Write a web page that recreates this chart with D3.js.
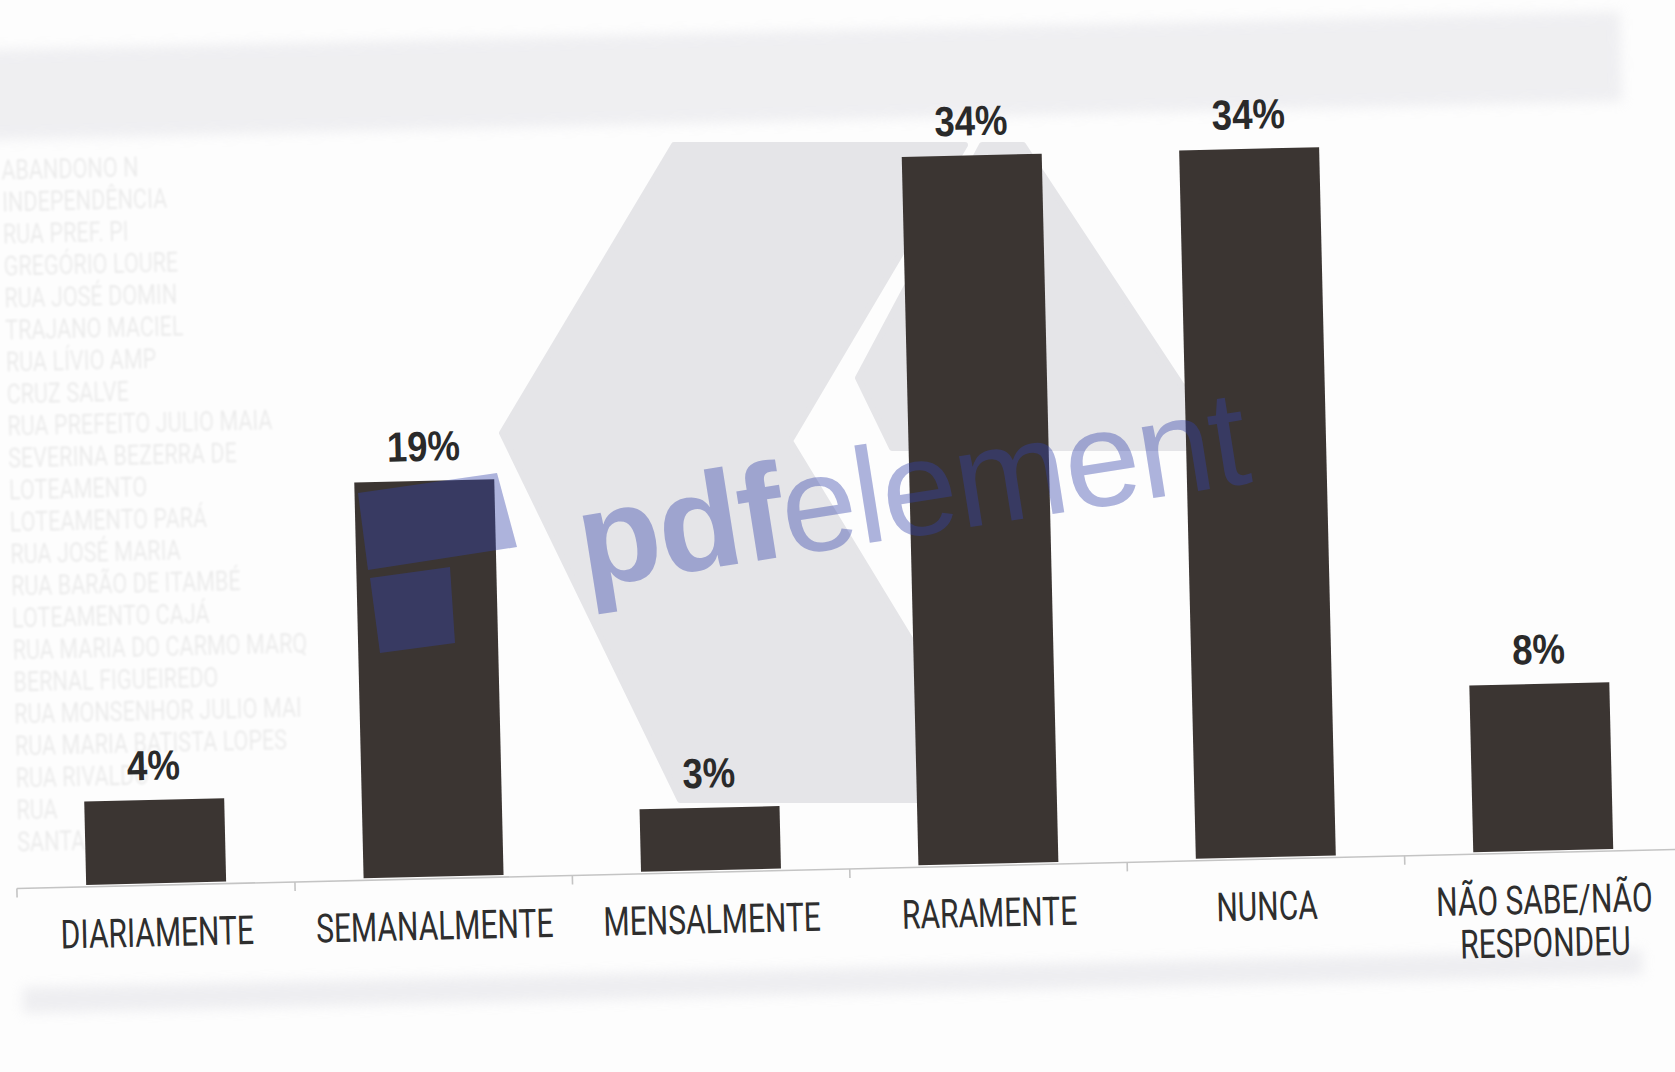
<!DOCTYPE html>
<html>
<head>
<meta charset="utf-8">
<script src="https://cdn.jsdelivr.net/npm/d3@7"></script>
<style>
  html, body { margin: 0; padding: 0; background: #fdfdfd; }
  svg { display: block; }
</style>
</head>
<body>
<svg id="chart" width="1675" height="1072"></svg>
<script>
// ---------------- DATA ----------------
const categories = ["DIARIAMENTE", "SEMANALMENTE", "MENSALMENTE", "RARAMENTE", "NUNCA", "NÃO SABE/NÃO RESPONDEU"];
const categoryLines = [["DIARIAMENTE"], ["SEMANALMENTE"], ["MENSALMENTE"], ["RARAMENTE"], ["NUNCA"], ["NÃO SABE/NÃO", "RESPONDEU"]];
const values = [4, 19, 3, 34, 34, 8];
const valueLabels = ["4%", "19%", "3%", "34%", "34%", "8%"];
// faint text showing through from the page behind
const bleedLines = ["ABANDONO N", "INDEPENDÊNCIA", "RUA PREF. PI", "GREGÓRIO LOURE", "RUA JOSÉ DOMIN", "TRAJANO MACIEL",
  "RUA LÍVIO AMP", "CRUZ SALVE", "RUA PREFEITO JULIO MAIA", "SEVERINA BEZERRA DE", "LOTEAMENTO", "LOTEAMENTO PARÁ",
  "RUA JOSÉ MARIA", "RUA BARÃO DE ITAMBÉ", "LOTEAMENTO CAJÁ", "RUA MARIA DO CARMO MARQ", "BERNAL FIGUEIREDO",
  "RUA MONSENHOR JULIO MAI", "RUA MARIA BATISTA LOPES", "RUA RIVALDO", "RUA", "SANTA"];
const watermarkWords = ["pdf", "element"];

// ---------------- SETUP ----------------
const W = 1675, H = 1072;
const svg = d3.select("#chart");
const defs = svg.append("defs");
defs.append("filter").attr("id", "blurBig").attr("x", "-10%").attr("y", "-50%").attr("width", "120%").attr("height", "200%")
  .append("feGaussianBlur").attr("stdDeviation", 6);
defs.append("filter").attr("id", "blurSmall")
  .append("feGaussianBlur").attr("stdDeviation", 1.3);

svg.append("rect").attr("width", W).attr("height", H).attr("fill", "#fdfdfd");

// grey watermark logo shape (screen coordinates)
const logoShapes = [
  [[674,145],[965,145],[790,441],[1008,800],[680,800],[502,433]],
  [[982,145],[1023,145],[1223,448],[892,448],[858,378]]
];
svg.append("g").selectAll("path").data(logoShapes).join("path")
  .attr("d", d => d3.line()(d) + "Z")
  .attr("fill", "#e5e5e8")
  .attr("stroke", "#e5e5e8").attr("stroke-width", 6).attr("stroke-linejoin", "round");

// page (slightly rotated photo)
const page = svg.append("g").attr("transform", "rotate(-1.35,846,867)");

// grey bleed-through bands
page.append("rect").attr("x", 0).attr("y", 30).attr("width", 1640).attr("height", 90)
  .attr("fill", "#dcdce2").attr("opacity", 0.42).attr("filter", "url(#blurBig)");
page.append("rect").attr("x", 20).attr("y", 968).attr("width", 1620).attr("height", 26)
  .attr("fill", "#dcdce2").attr("opacity", 0.45).attr("filter", "url(#blurBig)");

page.append("g").selectAll("text").data(bleedLines).join("text")
  .attr("transform", (d, i) => `translate(18,${160 + i * 32}) scale(0.8,1)`)
  .attr("font-family", "Roboto, 'Liberation Sans', sans-serif")
  .attr("font-size", 27)
  .attr("fill", "#000").attr("opacity", 0.07)
  .attr("filter", "url(#blurSmall)")
  .text(d => d);

// scales
const x = d3.scaleBand().domain(categories).range([16.6, 1682.8]).paddingInner(0.4955).paddingOuter(0.25);
const y = d3.scaleLinear().domain([0, 34]).range([867, 158.5]);

// axis
const axisY = y(0) + 2;
const boundaries = [x.range()[0]].concat(categories.slice(1).map(c => x(c) - (x.step() - x.bandwidth()) / 2));
const axisG = page.append("g");
axisG.append("line").attr("x1", x.range()[0]).attr("x2", 1680).attr("y1", axisY).attr("y2", axisY)
  .attr("stroke", "#c4c4c4").attr("stroke-width", 1.6);
axisG.selectAll(".tick").data(boundaries).join("line")
  .attr("x1", d => d).attr("x2", d => d).attr("y1", axisY).attr("y2", axisY + 9)
  .attr("stroke", "#c4c4c4").attr("stroke-width", 1.6);

// bars
page.append("g").selectAll("rect").data(values).join("rect")
  .attr("x", (d, i) => x(categories[i]))
  .attr("width", x.bandwidth())
  .attr("y", d => y(d))
  .attr("height", d => y(0) - y(d))
  .attr("fill", "#3b3532");

// value labels
page.append("g").selectAll("text").data(values).join("text")
  .attr("transform", (d, i) => `translate(${x(categories[i]) + x.bandwidth() / 2},${y(d) - 20}) scale(0.87,1)`)
  .attr("text-anchor", "middle")
  .attr("font-family", "'Liberation Sans', Arial, sans-serif")
  .attr("font-weight", "bold")
  .attr("font-size", 42)
  .attr("fill", "#2a2a2a")
  .text((d, i) => valueLabels[i]);

// category labels
const catG = page.append("g").selectAll("g").data(categoryLines).join("g")
  .attr("transform", (d, i) => `translate(${x(categories[i]) + x.bandwidth() / 2},930)`);
catG.selectAll("text").data(d => d).join("text")
  .attr("transform", (d, j) => `translate(0,${j * 43}) scale(0.75,1)`)
  .attr("text-anchor", "middle")
  .attr("font-family", "Roboto, 'Liberation Sans', sans-serif")
  .attr("font-size", 40)
  .attr("fill", "#2e2e2e")
  .text(d => d);

// pdfelement watermark (screen coordinates, translucent)
const wmColor = "rgb(52,67,171)";
const wmOpacity = 0.4;
const icon = [
  [[358,493],[497,473],[517,547],[368,570]],
  [[370,578],[450,567],[455,643],[380,653]]
];
svg.append("g").selectAll("path").data(icon).join("path")
  .attr("d", d => d3.line()(d) + "Z")
  .attr("fill", wmColor).attr("fill-opacity", wmOpacity);

const wm = svg.append("text")
  .attr("transform", "translate(585,588) rotate(-9)")
  .attr("font-family", "'Liberation Sans', Arial, sans-serif")
  .attr("font-size", 136)
  .attr("letter-spacing", -2)
  .attr("fill", wmColor).attr("fill-opacity", wmOpacity);
wm.selectAll("tspan").data(watermarkWords).join("tspan")
  .attr("font-weight", (d, i) => i === 0 ? "bold" : "normal")
  .text(d => d);
</script>
</body>
</html>
